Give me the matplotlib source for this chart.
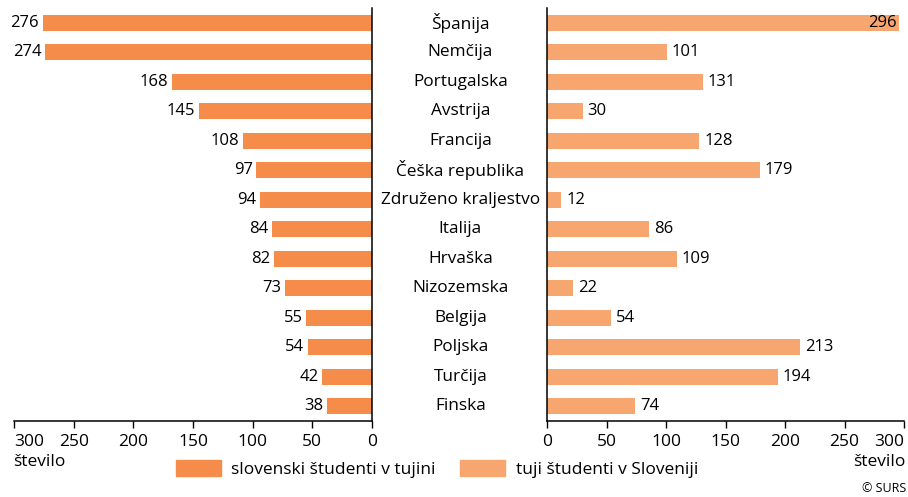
import matplotlib.pyplot as plt
from matplotlib.patches import Patch

plt.rcParams['font.family'] = ['Open Sans', 'DejaVu Sans']

countries = ["Španija", "Nemčija", "Portugalska", "Avstrija", "Francija",
             "Češka republika", "Združeno kraljestvo", "Italija", "Hrvaška",
             "Nizozemska", "Belgija", "Poljska", "Turčija", "Finska"]
outgoing = [276, 274, 168, 145, 108, 97, 94, 84, 82, 73, 55, 54, 42, 38]
incoming = [296, 101, 131, 30, 128, 179, 12, 86, 109, 22, 54, 213, 194, 74]
ticks = [0, 50, 100, 150, 200, 250, 300]

c_out = "#f68c4a"
c_in = "#f8a670"
fs = 12

fig = plt.figure(figsize=(9.08, 4.97), dpi=100)
axl = fig.add_axes([14 / 908, 1 - 421 / 497, 358 / 908, 413 / 497])
axr = fig.add_axes([547 / 908, 1 - 421 / 497, 357 / 908, 413 / 497])

y = list(range(len(countries)))

axl.barh(y, outgoing, height=0.55, color=c_out)
axr.barh(y, incoming, height=0.55, color=c_in)

for ax in (axl, axr):
    ax.set_xlim(0, 300)
    ax.set_ylim(13.5, -0.5)
    ax.set_yticks([])
    ax.set_xticks(ticks)
    ax.tick_params(axis="x", length=5, width=1, labelsize=12.5, pad=4)
    ax.spines["top"].set_visible(False)
    for s in ax.spines.values():
        s.set_linewidth(1.1)

axl.invert_xaxis()
axl.spines["left"].set_visible(False)
axr.spines["right"].set_visible(False)

# outermost tick labels are pulled inward, like in the original
axl.get_xticklabels()[-1].set_horizontalalignment("left")
axr.get_xticklabels()[-1].set_horizontalalignment("right")

for yi, v in zip(y, outgoing):
    axl.text(v + 3, yi, str(v), ha="right", va="center", fontsize=fs)
for yi, v in zip(y, incoming):
    if v > 280:
        axr.text(v - 2, yi, str(v), ha="right", va="center", fontsize=fs)
    else:
        axr.text(v + 4, yi, str(v), ha="left", va="center", fontsize=fs)

# country names sit in the gap between the two panels
for yi, name in zip(y, countries):
    axl.text(-74, yi, name, ha="center", va="center", fontsize=12.4)

fig.text(13 / 908, 1 - 462 / 497, "število", ha="left", va="center", fontsize=12.5)
fig.text(906 / 908, 1 - 462 / 497, "število", ha="right", va="center", fontsize=12.5)
fig.text(906 / 908, 1 - 489 / 497, "© SURS", ha="right", va="center", fontsize=9)

handles = [Patch(color=c_out, label="slovenski študenti v tujini"),
           Patch(color=c_in, label="tuji študenti v Sloveniji")]
fig.legend(handles=handles, loc="center", bbox_to_anchor=(437 / 908, 1 - 469 / 497),
           ncol=2, frameon=False, fontsize=12.5, handlelength=2.6, handleheight=1.0,
           columnspacing=1.4, handletextpad=0.6)

fig.savefig("out.png", dpi=100)
